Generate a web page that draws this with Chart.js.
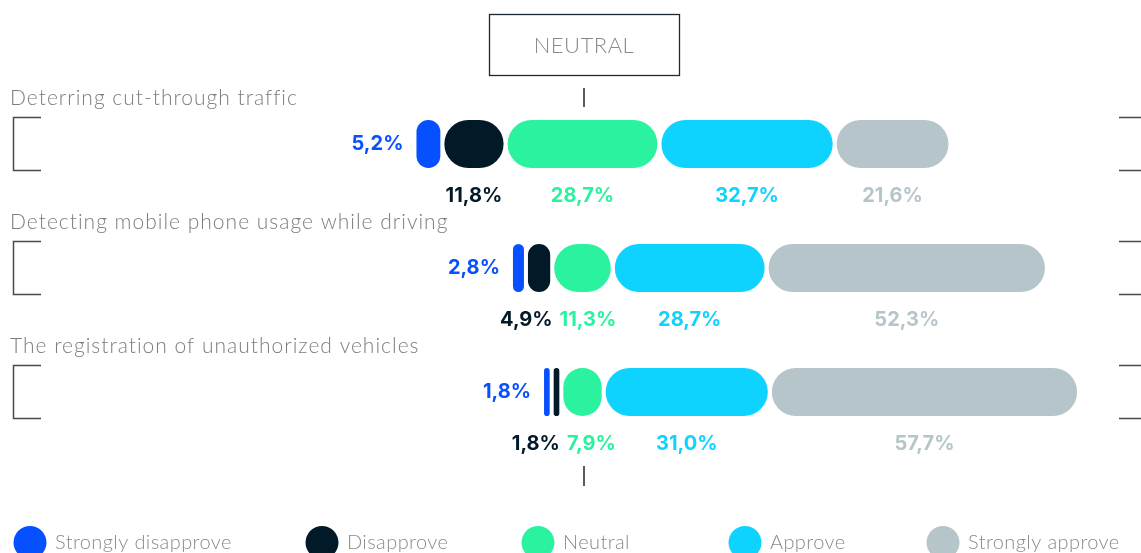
<!DOCTYPE html>
<html>
<head>
<meta charset="utf-8">
<script src="https://cdn.jsdelivr.net/npm/chart.js@4.4.1/dist/chart.umd.min.js"></script>
<style>
  html, body { margin: 0; padding: 0; background: #ffffff; }
  #wrap { width: 1141px; height: 553px; position: relative; }
</style>
</head>
<body>
<div id="wrap"><canvas id="c" width="1141" height="553"></canvas></div>
<script>
// ---- data ----
const categories = [
  'Deterring cut-through traffic',
  'Detecting mobile phone usage while driving',
  'The registration of unauthorized vehicles'
];
const seriesNames = ['Strongly disapprove', 'Disapprove', 'Neutral', 'Approve', 'Strongly approve'];
const stronglyDisapprove = [5.2, 2.8, 1.8];
const disapprove = [11.8, 4.9, 1.8];
const neutral = [28.7, 11.3, 7.9];
const approve = [32.7, 28.7, 31.0];
const stronglyApprove = [21.6, 52.3, 57.7];
const centerLabel = 'NEUTRAL';

// ---- styles ----
const colors = ['#0650ff', '#021a28', '#2bf29f', '#0fd3ff', '#b5c5ca'];
const series = [stronglyDisapprove, disapprove, neutral, approve, stronglyApprove];
const LIGHT_FONT = '"Lato", "Open Sans", sans-serif';
const BOLD_FONT = '"Inter", "Roboto", sans-serif';

// floating bar ranges, neutral centred at 0
function ranges(idx) {
  return categories.map((_, i) => {
    let start = -(stronglyDisapprove[i] + disapprove[i] + neutral[i] / 2);
    for (let k = 0; k < idx; k++) start += series[k][i];
    return [start, start + series[idx][i]];
  });
}

const datasets = seriesNames.map((name, idx) => ({
  label: name,
  data: ranges(idx),
  backgroundColor: colors[idx],
  borderColor: '#ffffff',
  borderWidth: 2,
  borderRadius: 100,
  borderSkipped: false,
  inflateAmount: 0,
  barThickness: 52,
  grouped: false
}));

const fmt = v => v.toFixed(1).replace('.', ',') + '%';

const decor = {
  id: 'decor',
  afterDraw(chart) {
    const ctx = chart.ctx;
    const xs = chart.scales.x, ys = chart.scales.y;
    const x0 = xs.getPixelForValue(0);
    const tickX = Math.round(x0 + 1.5);
    ctx.save();
    // NEUTRAL box
    ctx.strokeStyle = '#1b2935';
    ctx.lineWidth = 1.3;
    ctx.strokeRect(489.5, 14.5, 190, 61);
    ctx.fillStyle = '#8a8a8a';
    ctx.font = '300 22px ' + LIGHT_FONT;
    ctx.letterSpacing = '0.5px';
    ctx.textAlign = 'center';
    ctx.textBaseline = 'middle';
    ctx.fillText(centerLabel, tickX, 46);
    // centre ticks
    ctx.strokeStyle = '#1b2935';
    ctx.lineWidth = 1.5;
    ctx.beginPath();
    ctx.moveTo(tickX, 88); ctx.lineTo(tickX, 107);
    ctx.moveTo(tickX, 466); ctx.lineTo(tickX, 486);
    ctx.stroke();

    categories.forEach((cat, i) => {
      const yc = ys.getPixelForValue(i);
      // category title
      ctx.fillStyle = '#7d7d7d';
      ctx.font = '300 21px ' + LIGHT_FONT;
      ctx.letterSpacing = '1px';
      ctx.textAlign = 'left';
      ctx.textBaseline = 'middle';
      ctx.fillText(cat, 10, yc - 46);
      ctx.letterSpacing = '0px';
      // brackets
      ctx.strokeStyle = '#4a4a4a';
      ctx.lineWidth = 1.5;
      const t = Math.round(yc - 27) + 0.5, b = Math.round(yc + 26) + 0.5;
      ctx.beginPath();
      ctx.moveTo(41, t); ctx.lineTo(13.5, t); ctx.lineTo(13.5, b); ctx.lineTo(41, b);
      ctx.moveTo(1119, t); ctx.lineTo(1141, t);
      ctx.moveTo(1119, b); ctx.lineTo(1141, b);
      ctx.stroke();

      // value labels
      ctx.font = '700 20px ' + BOLD_FONT;
      ctx.textBaseline = 'middle';
      // strongly disapprove: left of bar
      const sdStart = xs.getPixelForValue(datasets[0].data[i][0]) + 2;
      ctx.fillStyle = colors[0];
      ctx.textAlign = 'right';
      ctx.fillText(fmt(stronglyDisapprove[i]), sdStart - 13, yc);
      // others below, centred on segment
      const centres = [1, 2, 3, 4].map(k => {
        const r = datasets[k].data[i];
        return xs.getPixelForValue((r[0] + r[1]) / 2);
      });
      const widths = [1, 2, 3, 4].map(k => ctx.measureText(fmt(series[k][i])).width);
      // resolve overlap between disapprove and neutral labels
      const overlap = (centres[0] + widths[0] / 2 + 7) - (centres[1] - widths[1] / 2);
      if (overlap > 0) {
        centres[0] -= overlap * 0.7;
        centres[1] += overlap * 0.3;
      }
      ctx.textAlign = 'center';
      [1, 2, 3, 4].forEach((k, j) => {
        ctx.fillStyle = colors[k];
        ctx.fillText(fmt(series[k][i]), centres[j], yc + 52);
      });
    });

    // legend
    const lx = [30, 322, 538, 745, 943];
    seriesNames.forEach((name, k) => {
      ctx.fillStyle = colors[k];
      ctx.beginPath();
      ctx.arc(lx[k], 542.5, 16.5, 0, Math.PI * 2);
      ctx.fill();
      ctx.fillStyle = '#8a8a8a';
      ctx.font = '300 20px ' + LIGHT_FONT;
      ctx.letterSpacing = '0.4px';
      ctx.textAlign = 'left';
      ctx.textBaseline = 'middle';
      ctx.fillText(name, lx[k] + 25, 543);
    });
    ctx.restore();
  }
};

new Chart(document.getElementById('c'), {
  type: 'bar',
  data: { labels: categories, datasets },
  options: {
    indexAxis: 'y',
    responsive: false,
    animation: false,
    layout: { padding: { top: 82, bottom: 99, left: 0, right: 0 } },
    scales: {
      x: { display: false, min: -582.5 / 5.36, max: (1141 - 582.5) / 5.36 },
      y: { display: false, offset: true }
    },
    plugins: { legend: { display: false }, tooltip: { enabled: false } }
  },
  plugins: [decor]
});
</script>
</body>
</html>
